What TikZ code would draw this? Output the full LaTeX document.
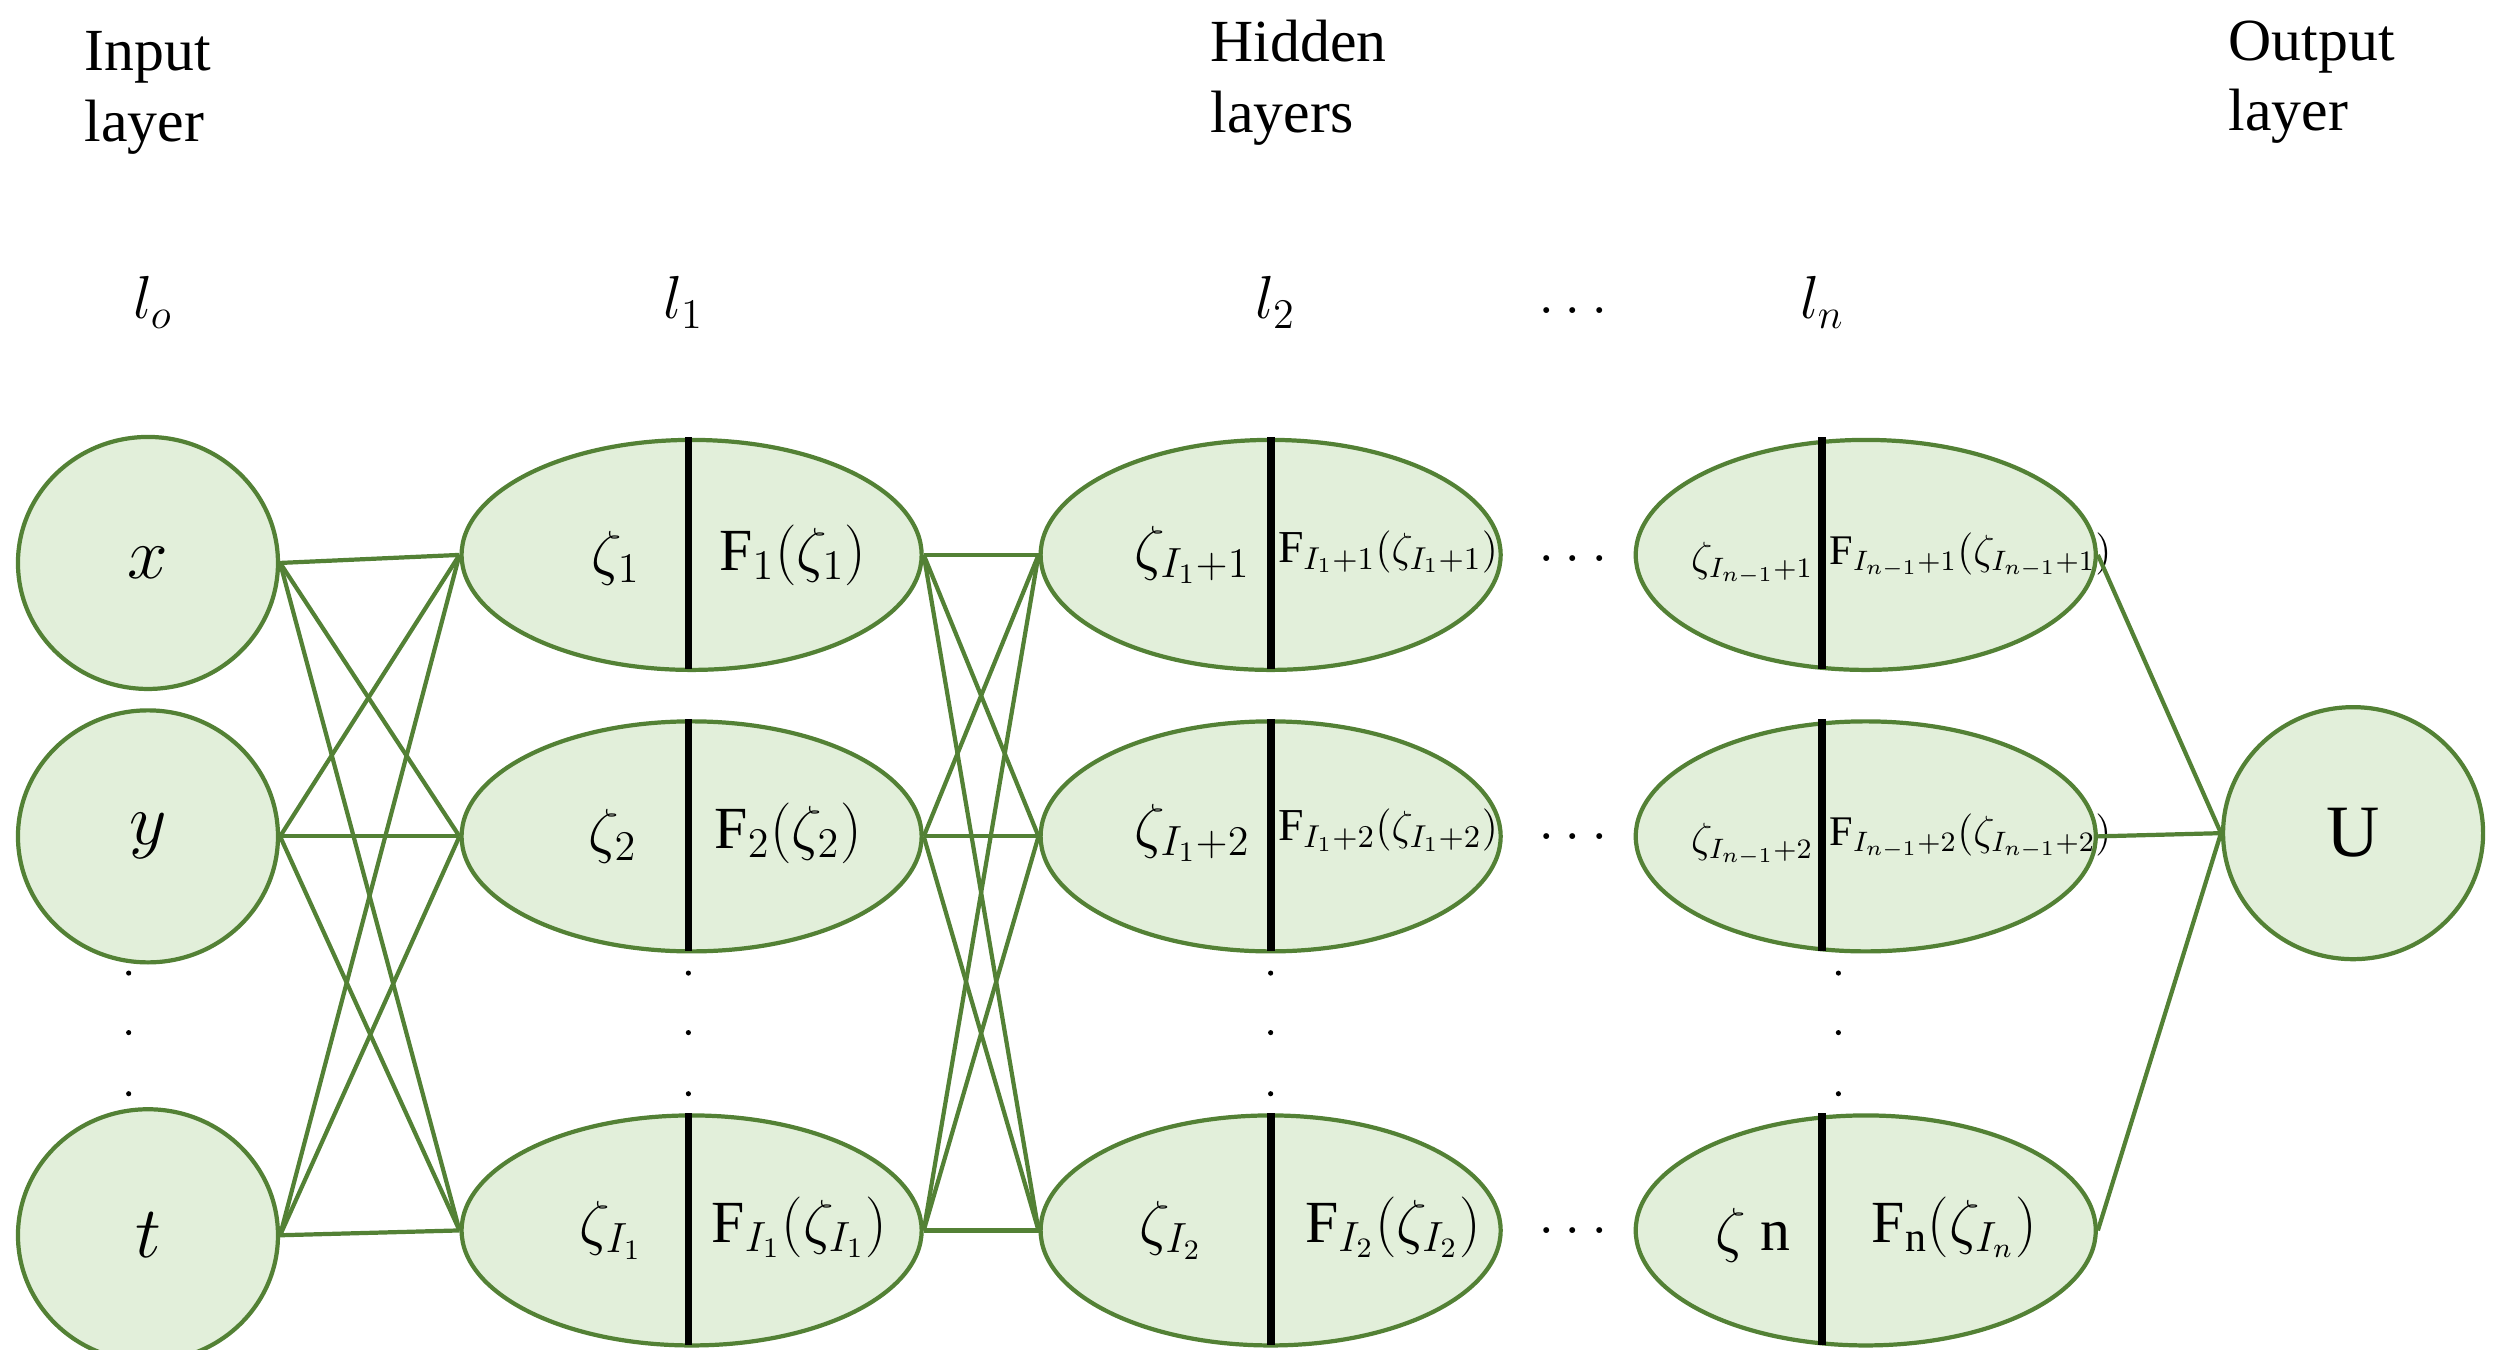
\documentclass[tikz,border=0pt]{standalone}
\usepackage{fontspec}
\setmainfont{Liberation Serif}
\usetikzlibrary{shapes.geometric}
\definecolor{nodefill}{HTML}{E2EFDA}
\definecolor{nodeline}{HTML}{538135}
\tikzset{
  unit/.style={ellipse, draw=nodeline, fill=nodefill, line width=1.2pt, minimum width=2.6cm, minimum height=2.52cm, inner sep=0pt},
  cell/.style={ellipse, draw=nodeline, fill=nodefill, line width=1.2pt, minimum width=4.6cm, minimum height=2.3cm, inner sep=0pt},
  wire/.style={draw=nodeline, line width=1.2pt},
  split/.style={line width=2.2pt},
  lab/.style={font=\fontsize{17}{20}\selectfont},
  big/.style={font=\fontsize{21}{24}\selectfont},
  small/.style={font=\fontsize{13}{16}\selectfont, inner sep=1pt},
  tiny/.style={font=\fontsize{12}{15}\selectfont, inner sep=1pt}
}
\newcommand{\vdotsat}[1]{\foreach \yy in {605,642,680} \fill (#1,\yy) circle (1.6);}
\begin{document}
\begin{tikzpicture}[x=0.01608cm, y=-0.01608cm]
\useasboundingbox (0,0) rectangle (1550,839);
% titles
\node[lab, align=left, anchor=north west] (tin) at (45,12) {Input\\layer};
\node[lab, align=left, anchor=north west] (thid) at (745,5) {Hidden\\layers};
\node[lab, align=left, anchor=north west] (tout) at (1378,5) {Output\\layer};
\node[lab] (l0) at (95,188) {$l_o$};
\node[lab] (l1) at (425,188) {$l_1$};
\node[lab] (l2) at (793,188) {$l_2$};
\node[lab] (ldots) at (978,193) {$\dots$};
\node[lab] (ln) at (1133,188) {$l_n$};
% input layer
\node[unit] (x) at (92,350) {};
\node[unit] (y) at (92,520) {};
\node[unit] (t) at (92,768) {};
\node[big] at (92,350) {$x$};
\node[big] at (92,520) {$y$};
\node[big] at (92,768) {$t$};
\vdotsat{80}
% layer 1
\node[cell] (a1) at (430,345) {};
\node[cell] (a2) at (430,520) {};
\node[cell] (a3) at (430,765) {};
\foreach \yy in {345,520,765} \draw[split] (428,\yy-73) -- (428,\yy+71);
\node[lab] at (383,347) {$\zeta_1$};
\node[lab] at (493,345) {F$_1(\zeta_1)$};
\node[lab] at (381,520) {$\zeta_2$};
\node[lab] at (490,518) {F$_2(\zeta_2)$};
\node[lab] at (380,765) {$\zeta_{I_1}$};
\node[lab] at (497,763) {F$_{I_1}(\zeta_{I_1})$};
\vdotsat{428}
% layer 2
\node[cell] (b1) at (790,345) {};
\node[cell] (b2) at (790,520) {};
\node[cell] (b3) at (790,765) {};
\foreach \yy in {345,520,765} \draw[split] (790,\yy-73) -- (790,\yy+71);
\node[lab, anchor=east] at (785,345) {$\zeta_{I_1+1}$};
\node[small, anchor=west] at (792,343) {F$_{I_1+1}(\zeta_{I_1+1})$};
\node[lab, anchor=east] at (785,518) {$\zeta_{I_1+2}$};
\node[small, anchor=west] at (792,516) {F$_{I_1+2}(\zeta_{I_1+2})$};
\node[lab] at (728,765) {$\zeta_{I_2}$};
\node[lab] at (866,763) {F$_{I_2}(\zeta_{I_2})$};
\vdotsat{790}
% layer n
\node[cell] (c1) at (1160,345) {};
\node[cell] (c2) at (1160,520) {};
\node[cell] (c3) at (1160,765) {};
\foreach \yy in {345,520,765} \draw[split] (1133,\yy-73) -- (1133,\yy+71);
\node[tiny, anchor=east] at (1130,350) {$\zeta_{I_{n-1}+1}$};
\node[tiny, anchor=west] at (1135,345) {F$_{I_{n-1}+1}(\zeta_{I_{n-1}+1})$};
\node[tiny, anchor=east] at (1130,525) {$\zeta_{I_{n-1}+2}$};
\node[tiny, anchor=west] at (1135,520) {F$_{I_{n-1}+2}(\zeta_{I_{n-1}+2})$};
\node[lab] at (1090,768) {$\zeta$ n};
\node[lab] at (1215,763) {F$_\mathrm{n}(\zeta_{I_n})$};
\vdotsat{1143}
\foreach \yy in {347,520,765} \node[lab] at (978,\yy) {$\dots$};
% output
\node[unit] (u) at (1463,518) {};
\node[big] at (1463,518) {U};
% connections
\foreach \s in {x,y,t} \foreach \d in {a1,a2,a3} \draw[wire] (\s.east) -- (\d.west);
\foreach \s in {a1,a2,a3} \foreach \d in {b1,b2,b3} \draw[wire] (\s.east) -- (\d.west);
\foreach \s in {c1,c2,c3} \draw[wire] (\s.east) -- (u.west);
\end{tikzpicture}
\end{document}
